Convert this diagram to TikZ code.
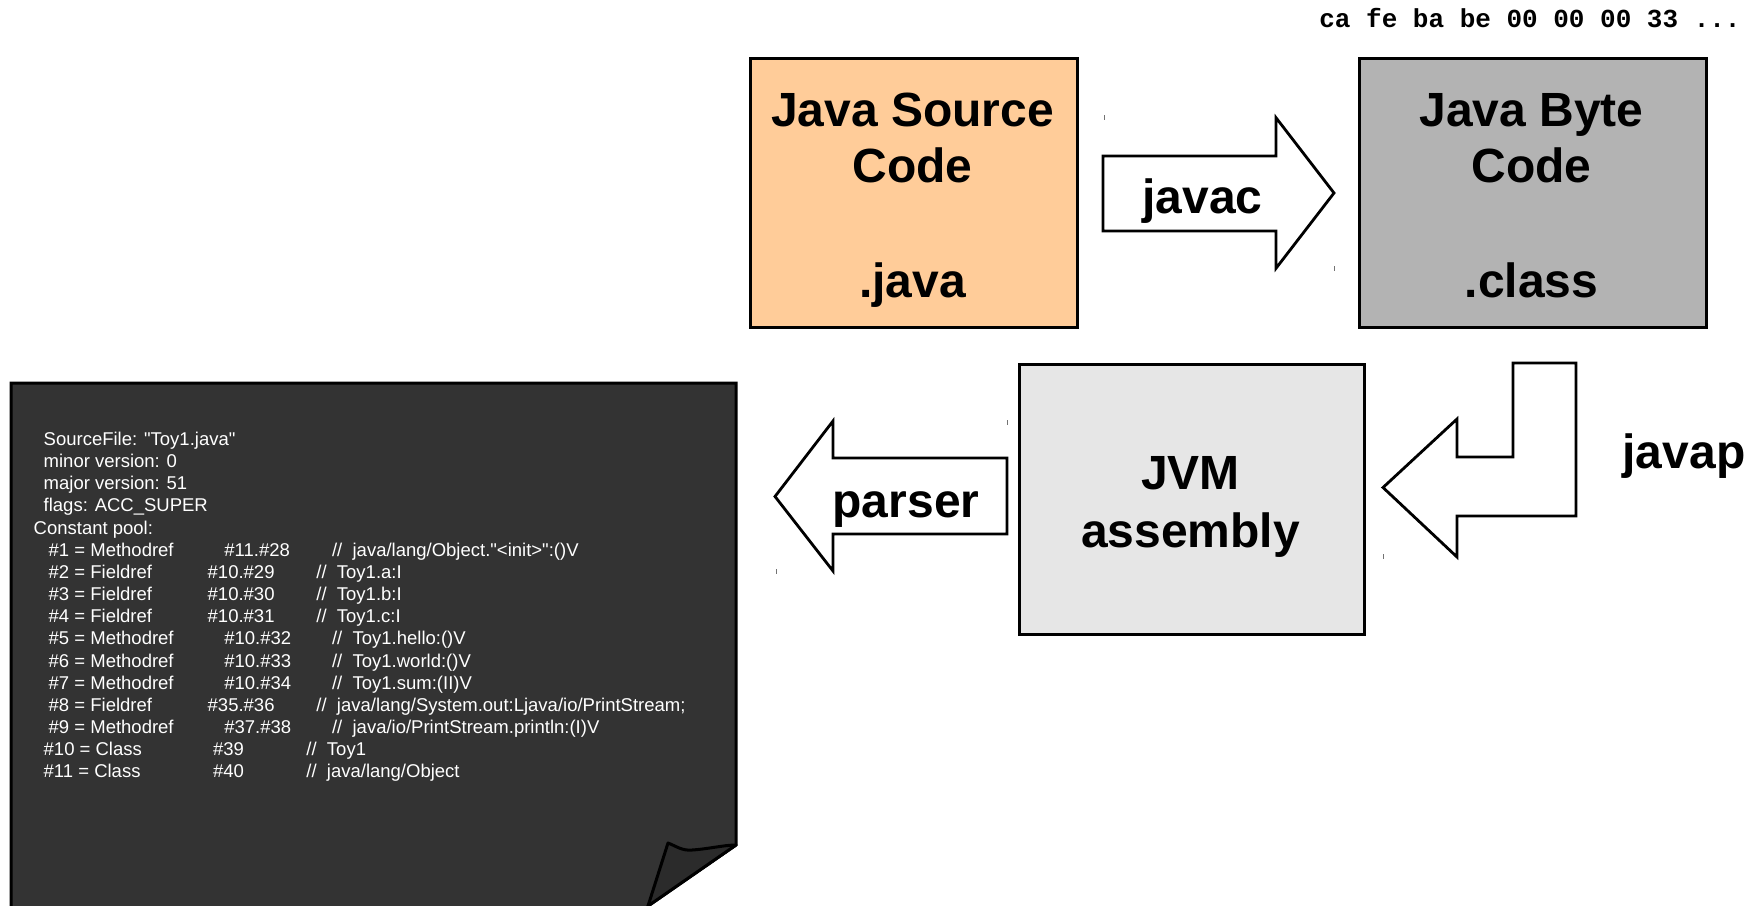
\documentclass[tikz,border=0pt]{standalone}
\usepackage{fontspec}
\setmainfont{Liberation Sans}
\newfontfamily\listfont{Liberation Sans}[Ligatures=TeXOff]
\newfontfamily\hexfont{Liberation Mono}

\definecolor{srcfill}{HTML}{FFCC99}
\definecolor{bytefill}{HTML}{B3B3B3}
\definecolor{jvmfill}{HTML}{E6E6E6}
\definecolor{docfill}{HTML}{333333}
\definecolor{foldfill}{HTML}{2B2B2B}

% one line of the constant pool: label, operands, comment
\newcommand\poolM[3]{\makebox[87.85pt][l]{#1}\makebox[53.85pt][l]{#2}//\ \ #3}
\newcommand\poolF[3]{\makebox[79.5pt][l]{#1}\makebox[54.35pt][l]{#2}//\ \ #3}
\newcommand\poolC[3]{\makebox[84.7pt][l]{#1}\makebox[46.65pt][l]{#2}//\ \ #3}

\tikzset{
  stage/.style={draw=black, line width=1.5pt, inner sep=0pt, anchor=north west},
  blockarrow/.style={draw=black, fill=white, line width=1.4pt, line join=miter},
  bigtext/.style={font=\fontsize{24}{28}\selectfont\bfseries, anchor=base, inner sep=0pt},
  listing/.style={font=\listfont\fontsize{9.25}{11}\selectfont, text=white, anchor=base west, inner sep=0pt},
  hextext/.style={font=\fontsize{13}{15}\selectfont\hexfont\bfseries, anchor=base east, inner sep=0pt},
  boxmark/.style={draw=black!55, line width=0.5pt},
}

\begin{document}
\begin{tikzpicture}[x=0.5pt,y=-0.5pt]
\useasboundingbox (0,0) rectangle (1750,905);
\clip (0,0) rectangle (1750,905);

% ---- raw bytes of the class file
\node[hextext] (hex) at (1741,27) {ca fe ba be 00 00 00 33 ...};

% ---- the three stages
\node[stage, fill=srcfill, minimum width=163.5pt, minimum height=134.5pt] (src) at (749,57) {};
\node[stage, fill=bytefill, minimum width=173.5pt, minimum height=134.5pt] (byte) at (1358,57) {};
\node[stage, fill=jvmfill, minimum width=172.5pt, minimum height=135pt] (jvm) at (1018,363) {};

\node[bigtext] (srcA) at (912.5,126) {Java Source};
\node[bigtext] (srcB) at (912.5,182) {Code};
\node[bigtext] (srcC) at (912.5,297) {.java};

\node[bigtext] (byteA) at (1531.5,126) {Java Byte};
\node[bigtext] (byteB) at (1531.5,182) {Code};
\node[bigtext] (byteC) at (1531.5,297) {.class};

\node[bigtext] (jvmA) at (1190.5,489) {JVM};
\node[bigtext] (jvmB) at (1190.5,547) {assembly};

% ---- block arrows between the stages
\draw[blockarrow] (1103,156) -- (1276,156) -- (1276,117.7) -- (1334,193)
  -- (1276,268.3) -- (1276,231) -- (1103,231) -- cycle;
\node[bigtext] (javac) at (1202.5,213) {javac};

\draw[blockarrow] (1576,363) -- (1576,516) -- (1457,516) -- (1457,557)
  -- (1383,487.5) -- (1457,419) -- (1457,457) -- (1513,457) -- (1513,363) -- cycle;
\node[bigtext] (javap) at (1684,468) {javap};

\draw[blockarrow] (1007,458) -- (833,458) -- (833,421) -- (775,496.5)
  -- (833,571) -- (833,534) -- (1007,534) -- cycle;
\node[bigtext] (parser) at (906,517) {parser};

% corner marks of the arrow frames
\draw[boxmark] (1104,115) -- (1104,120);
\draw[boxmark] (1334,266) -- (1334,271);
\draw[boxmark] (1007,420) -- (1007,425);
\draw[boxmark] (776,569) -- (776,574);
\draw[boxmark] (1383,554) -- (1383,559);

% ---- the parsed listing, on a sheet with a curled corner
\draw[line width=1.5pt, fill=docfill, line join=miter]
  (11,383) -- (736,383) -- (736,845) -- (648,906) -- (648,915) -- (11,915) -- cycle;
\draw[line width=1.5pt, fill=foldfill, line join=round]
  (668,843) .. controls (676,846) and (682,851) .. (692,850)
  .. controls (708,849) and (724,845) .. (736,845) -- (648,906) -- cycle;

\node[listing] (l0) at (43.3,445.5) {SourceFile: "Toy1.java"};
\node[listing] (l1) at (43.3,467.65) {minor version: 0};
\node[listing] (l2) at (43.3,489.8) {major version: 51};
\node[listing] (l3) at (43.3,511.95) {flags: ACC\_SUPER};
\node[listing] (l4) at (33.3,534.1) {Constant pool:};
\node[listing] (l5) at (48.3,556.25) {\poolM{\#1 = Methodref}{\#11.\#28}{java/lang/Object."<init>":()V}};
\node[listing] (l6) at (48.3,578.4) {\poolF{\#2 = Fieldref}{\#10.\#29}{Toy1.a:I}};
\node[listing] (l7) at (48.3,600.55) {\poolF{\#3 = Fieldref}{\#10.\#30}{Toy1.b:I}};
\node[listing] (l8) at (48.3,622.7) {\poolF{\#4 = Fieldref}{\#10.\#31}{Toy1.c:I}};
\node[listing] (l9) at (48.3,644.85) {\poolM{\#5 = Methodref}{\#10.\#32}{Toy1.hello:()V}};
\node[listing] (l10) at (48.3,667) {\poolM{\#6 = Methodref}{\#10.\#33}{Toy1.world:()V}};
\node[listing] (l11) at (48.3,689.15) {\poolM{\#7 = Methodref}{\#10.\#34}{Toy1.sum:(II)V}};
\node[listing] (l12) at (48.3,711.3) {\poolF{\#8 = Fieldref}{\#35.\#36}{java/lang/System.out:Ljava/io/PrintStream;}};
\node[listing] (l13) at (48.3,733.45) {\poolM{\#9 = Methodref}{\#37.\#38}{java/io/PrintStream.println:(I)V}};
\node[listing] (l14) at (43.3,755.6) {\poolC{\#10 = Class}{\#39}{Toy1}};
\node[listing] (l15) at (43.3,777.75) {\poolC{\#11 = Class}{\#40}{java/lang/Object}};
\end{tikzpicture}
\end{document}
